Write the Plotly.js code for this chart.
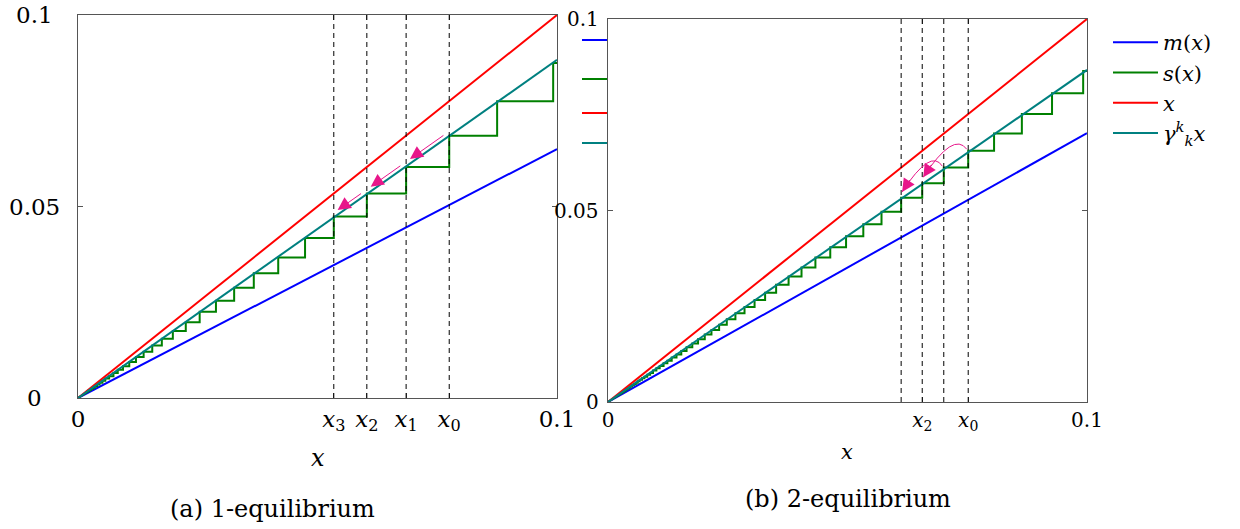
<!DOCTYPE html>
<html>
<head>
<meta charset="utf-8">
<script src="https://cdn.plot.ly/plotly-3.0.1.min.js"></script>
<style>html,body{margin:0;padding:0;background:#fff;}#chart{width:1240px;height:529px;}</style>
</head>
<body>
<div id="chart"></div>
<script>
// ---------- data ----------
const lineX = [0, 0.1];
// (a) 1-equilibrium
const mLeft = [0, 0.065];
const idLeft = [0, 0.1];
const gammaLeft = [0, 0.0883];
const stepsLeft = [0.0992, 0.0875, 0.0775, 0.0685, 0.0603, 0.0534, 0.0474, 0.0418, 0.0367, 0.0326,
  0.0288, 0.0254, 0.0225, 0.0198, 0.0175, 0.0155, 0.0137, 0.0121, 0.0107, 0.0094, 0.0083, 0.0074,
  0.0065, 0.0057, 0.0051, 0.0045, 0.0040, 0.0035, 0.0031, 0.0027, 0.0024, 0.0021, 0.0019, 0.0017, 0.0015];
const marksLeft = [0.0534, 0.0603, 0.0685, 0.0775];
const marksLeftText = ['<i>x</i><sub>3</sub>', '<i>x</i><sub>2</sub>', '<i>x</i><sub>1</sub>', '<i>x</i><sub>0</sub>'];
// (b) 2-equilibrium
const mRight = [0, 0.0702];
const idRight = [0, 0.1];
const gammaRight = [0, 0.0867];
const stepsRight = [0.0992, 0.0927, 0.0864, 0.0806, 0.0752, 0.0701, 0.0656, 0.0612, 0.0571, 0.0533,
  0.0497, 0.0464, 0.0433, 0.0404, 0.0377, 0.0351, 0.0328, 0.0306, 0.0285, 0.0266, 0.0248, 0.0232,
  0.0216, 0.0202, 0.0188, 0.0176, 0.0164, 0.0153, 0.0143, 0.0133, 0.0124, 0.0116, 0.0108, 0.0101,
  0.0094, 0.0088, 0.0082, 0.0076, 0.0071, 0.0066, 0.0062, 0.0058, 0.0054, 0.0050, 0.0047, 0.0044,
  0.0041, 0.0038, 0.0036, 0.0033, 0.0031, 0.0029];
const marksRight = [0.0612, 0.0656, 0.0701, 0.0752];
const labelledRight = [0.0656, 0.0752];
const labelledRightText = ['<i>x</i><sub>2</sub>', '<i>x</i><sub>0</sub>'];
const yTicks = [0, 0.05, 0.1];
const yTickText = ['0', '0.05', '0.1'];
const legendNames = ['<i>m</i>(<i>x</i>)', '<i>s</i>(<i>x</i>)', '<i>x</i>', '<i>γ</i><sup><i>k</i></sup><sub><i>k</i></sub><i>x</i>'];

// ---------- styling ----------
const FONT = 'DejaVu Serif';
const C_BLUE = '#0000ff', C_GREEN = '#008000', C_RED = '#ff0000', C_TEAL = '#008080', C_PINK = '#e8168a';
const AX = '#555555';

// staircase: level on the segment left of step i equals step (i+shift)
function stair(steps, shift) {
  const xs = [0.1], ys = [steps[shift]];
  for (let i = 0; i + shift + 1 < steps.length; i++) {
    xs.push(steps[i]); ys.push(steps[i + shift]);
    xs.push(steps[i]); ys.push(steps[i + shift + 1]);
  }
  xs.push(0); ys.push(0);
  return {xs, ys};
}
const sL = stair(stepsLeft, 1);
const sR = stair(stepsRight, 2);

function line(x, y, color, name, xa, ya, show) {
  return {x, y, type: 'scatter', mode: 'lines', line: {color, width: 2}, name,
          xaxis: xa, yaxis: ya, showlegend: show, legendgroup: name, hoverinfo: 'skip'};
}
const traces = [
  line(lineX, mLeft, C_BLUE, legendNames[0], 'x', 'y', true),
  line(sL.xs, sL.ys, C_GREEN, legendNames[1], 'x', 'y', true),
  line(lineX, idLeft, C_RED, legendNames[2], 'x', 'y', true),
  line(lineX, gammaLeft, C_TEAL, legendNames[3], 'x', 'y', true),
  line(lineX, mRight, C_BLUE, legendNames[0], 'x2', 'y2', false),
  line(sR.xs, sR.ys, C_GREEN, legendNames[1], 'x2', 'y2', false),
  line(lineX, idRight, C_RED, legendNames[2], 'x2', 'y2', false),
  line(lineX, gammaRight, C_TEAL, legendNames[3], 'x2', 'y2', false)
];

const shapes = [];
const annotations = [];
// dashed verticals
marksLeft.forEach(v => shapes.push({type: 'line', xref: 'x', yref: 'y', x0: v, x1: v, y0: 0, y1: 0.1,
  line: {color: '#000', width: 1, dash: '5px,4px'}}));
marksRight.forEach(v => shapes.push({type: 'line', xref: 'x2', yref: 'y2', x0: v, x1: v, y0: 0, y1: 0.1,
  line: {color: '#000', width: 1, dash: '5px,4px'}}));

// straight arrows on (a): from x_k to x_{k+1} along the gamma line, slightly above it
const slopeL = gammaLeft[1] / lineX[1];
const xsDesc = marksLeft.slice().reverse();
for (let k = 0; k < 3; k++) {
  const tx = xsDesc[k] - 0.0009, hx = xsDesc[k + 1] + 0.0008;
  annotations.push({xref: 'x', yref: 'y', axref: 'x', ayref: 'y', x: hx, y: slopeL * hx + 0.0012,
    ax: tx, ay: slopeL * tx + 0.0012, text: '', showarrow: true, arrowhead: 2, arrowsize: 2.6,
    arrowwidth: 1, arrowcolor: C_PINK, standoff: 0, startstandoff: 0});
}
// curved arrows on (b): x0 -> x2, x1 -> x3
const slopeR = gammaRight[1] / lineX[1];
const xr = marksRight.slice().reverse();
for (let k = 0; k < 2; k++) {
  const tx = xr[k] - 0.0003, ty = slopeR * xr[k] + 0.0008;
  const hx = xr[k + 2] + 0.0002, hy = slopeR * xr[k + 2] + 0.0018;
  const cx = (tx + hx) / 2 + 0.0018, cy = ty + 0.0048;
  shapes.push({type: 'path', xref: 'x2', yref: 'y2',
    path: `M ${tx},${ty} Q ${cx},${cy} ${hx},${hy}`, line: {color: C_PINK, width: 1}});
  annotations.push({xref: 'x2', yref: 'y2', axref: 'x2', ayref: 'y2', x: hx, y: hy,
    ax: hx + (cx - hx) * 0.3, ay: hy + (cy - hy) * 0.3, text: '', showarrow: true, arrowhead: 2,
    arrowsize: 2.6, arrowwidth: 1, arrowcolor: C_PINK, standoff: 0});
}

// stray legend stubs at the left edge of (b)
const stubColors = [C_BLUE, C_GREEN, C_RED, C_TEAL];
const stubY = [40, 79, 113, 143];
stubColors.forEach((c, i) => shapes.push({type: 'line', xref: 'paper', yref: 'paper',
  x0: 582 / 1240, x1: 607 / 1240, y0: 1 - stubY[i] / 529, y1: 1 - stubY[i] / 529, line: {color: c, width: 2}}));

// y tick labels
yTicks.forEach((v, i) => {
  annotations.push({xref: 'paper', yref: 'y', x: 34 / 1240, y: v, text: yTickText[i], showarrow: false,
    xanchor: 'center', yanchor: 'middle', font: {family: FONT, size: 23, color: '#000'}});
  annotations.push({xref: 'paper', yref: 'y2', x: 601 / 1240, y: v, text: yTickText[i], showarrow: false,
    xanchor: 'right', yanchor: 'middle', font: {family: FONT, size: 20, color: '#000'}});
});

// captions and axis titles
const cap = (x, y, text, size) => annotations.push({xref: 'paper', yref: 'paper', x: x / 1240, y: 1 - y / 529,
  text, showarrow: false, xanchor: 'center', yanchor: 'middle', font: {family: FONT, size, color: '#000'}});
cap(318, 458, '<i>x</i>', 24);
cap(847, 452, '<i>x</i>', 21);
cap(272, 509, '(a) 1-equilibrium', 24);
cap(848, 499, '(b) 2-equilibrium', 24);

function axis(domain, tickvals, ticktext, size, anchor) {
  return {domain, range: [0, 0.1], tickvals, ticktext, showgrid: false, zeroline: false,
    showline: true, mirror: 'ticks', linecolor: AX, linewidth: 1, ticks: 'inside', ticklen: 5,
    tickcolor: AX, tickfont: {family: FONT, size, color: '#000'}, anchor, fixedrange: true,
    ticklabelstandoff: 0};
}

const layout = {
  width: 1240, height: 529, margin: {l: 0, r: 0, t: 0, b: 0},
  paper_bgcolor: '#fff', plot_bgcolor: '#fff',
  font: {family: FONT},
  xaxis: axis([78 / 1240, 557 / 1240], [0].concat(marksLeft, [0.1]), ['0'].concat(marksLeftText, ['0.1']), 23, 'y'),
  yaxis: Object.assign(axis([1 - 398 / 529, 1 - 15 / 529], yTicks, yTickText, 23, 'x'), {showticklabels: false}),
  xaxis2: axis([608 / 1240, 1087 / 1240], [0].concat(labelledRight, [0.1]), ['0'].concat(labelledRightText, ['0.1']), 20, 'y2'),
  yaxis2: Object.assign(axis([1 - 402 / 529, 1 - 19 / 529], yTicks, yTickText, 20, 'x2'), {showticklabels: false}),
  showlegend: true,
  legend: {x: 1108 / 1240, y: 1 - 22 / 529, xanchor: 'left', yanchor: 'top', bgcolor: 'rgba(0,0,0,0)',
    font: {family: FONT, size: 21, color: '#000'}, tracegroupgap: 0, itemwidth: 45},
  shapes, annotations
};

Plotly.newPlot('chart', traces, layout, {staticPlot: true, displayModeBar: false});
</script>
</body>
</html>
